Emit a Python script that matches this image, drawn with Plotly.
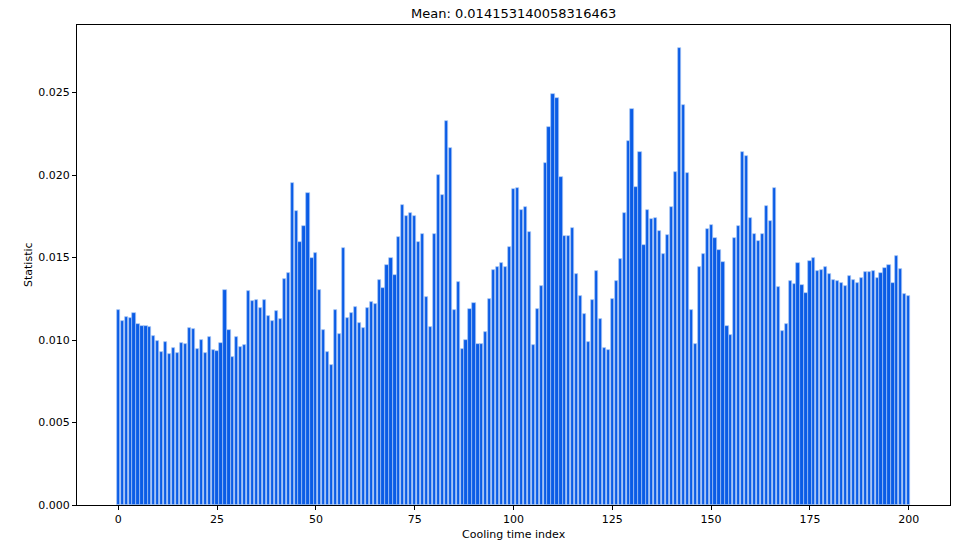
import plotly.graph_objects as go

title_text = "Mean: 0.014153140058316463"
x_label = "Cooling time index"
y_label = "Statistic"

values = [
    0.01180, 0.01115, 0.01142, 0.01133, 0.01162, 0.01097, 0.01085, 0.01085, 0.01081, 0.01024,
    0.00994, 0.00926, 0.00986, 0.00914, 0.00952, 0.00922, 0.00984, 0.00978, 0.01075, 0.01069,
    0.00948, 0.01000, 0.00922, 0.01021, 0.00938, 0.00934, 0.00982, 0.01301, 0.01061, 0.00900,
    0.01021, 0.00958, 0.00970, 0.01295, 0.01234, 0.01242, 0.01196, 0.01244, 0.01143, 0.01113,
    0.01174, 0.01127, 0.01369, 0.01408, 0.01952, 0.01783, 0.01595, 0.01690, 0.01890, 0.01496,
    0.01527, 0.01305, 0.01061, 0.00930, 0.00851, 0.01180, 0.01037, 0.01557, 0.01131, 0.01162,
    0.01198, 0.01105, 0.01071, 0.01196, 0.01228, 0.01216, 0.01363, 0.01318, 0.01452, 0.01498,
    0.01392, 0.01623, 0.01819, 0.01755, 0.01773, 0.01750, 0.01595, 0.01640, 0.01258, 0.01077,
    0.01644, 0.01998, 0.01878, 0.02331, 0.02166, 0.01180, 0.01351, 0.00948, 0.00998, 0.01188,
    0.01224, 0.00974, 0.00978, 0.01049, 0.01248, 0.01424, 0.01444, 0.01466, 0.01442, 0.01563,
    0.01914, 0.01923, 0.01789, 0.01809, 0.01656, 0.00970, 0.01188, 0.01329, 0.02073, 0.02293,
    0.02493, 0.02468, 0.01990, 0.01632, 0.01632, 0.01678, 0.01398, 0.01266, 0.01157, 0.00990,
    0.01240, 0.01420, 0.01125, 0.00950, 0.00940, 0.01250, 0.01361, 0.01494, 0.01769, 0.02206,
    0.02400, 0.01926, 0.02142, 0.01579, 0.01787, 0.01734, 0.01738, 0.01662, 0.01519, 0.01638,
    0.01805, 0.02017, 0.02773, 0.02426, 0.02015, 0.01184, 0.00978, 0.01444, 0.01523, 0.01672,
    0.01696, 0.01621, 0.01547, 0.01472, 0.01085, 0.01029, 0.01621, 0.01690, 0.02140, 0.02118,
    0.01740, 0.01644, 0.01599, 0.01641, 0.01815, 0.01720, 0.01920, 0.01319, 0.01053, 0.01095,
    0.01361, 0.01337, 0.01470, 0.01333, 0.01287, 0.01480, 0.01500, 0.01416, 0.01422, 0.01440,
    0.01398, 0.01365, 0.01361, 0.01345, 0.01327, 0.01390, 0.01363, 0.01343, 0.01375, 0.01414,
    0.01410, 0.01416, 0.01379, 0.01404, 0.01438, 0.01458, 0.01345, 0.01511, 0.01430, 0.01277,
    0.01268,
]
indices = list(range(len(values)))

x_ticks = [0, 25, 50, 75, 100, 125, 150, 175, 200]
y_ticks = [0.000, 0.005, 0.010, 0.015, 0.020, 0.025]

FONT = "DejaVu Sans"
W, H = 954, 543
L, R, T, B = 77, 4, 25, 38
plot_w = W - L - R
plot_h = H - T - B

fig = go.Figure()
fig.add_trace(go.Bar(
    x=indices, y=values, width=0.8,
    marker=dict(color="#0a5ce6", line=dict(color="#a8c6f4", width=0.7)),
))

axis_common = dict(
    showgrid=False, zeroline=False, showline=True, linecolor="black", linewidth=1,
    mirror=True, ticks="outside", ticklen=4, tickwidth=1, tickcolor="black",
    tickfont=dict(family=FONT, size=11, color="black"), automargin=False,
)

fig.update_layout(
    width=W, height=H,
    margin=dict(l=L, r=R, t=T, b=B),
    paper_bgcolor="white", plot_bgcolor="white",
    showlegend=False,
    bargap=0,
    xaxis=dict(range=[-10.44, 210.44], tickvals=x_ticks, ticktext=[str(t) for t in x_ticks],
               **axis_common),
    yaxis=dict(range=[0, 0.0291], tickvals=y_ticks, ticktext=[f"{t:.3f}" for t in y_ticks],
               **axis_common),
    annotations=[
        dict(text=title_text, xref="paper", yref="paper", x=0.5, y=(plot_h + T - 13) / plot_h,
             xanchor="center", yanchor="middle", showarrow=False,
             font=dict(family=FONT, size=13, color="black")),
        dict(text=x_label, xref="paper", yref="paper", x=0.5, y=-(534 - (T + plot_h)) / plot_h,
             xanchor="center", yanchor="middle", showarrow=False,
             font=dict(family=FONT, size=11, color="black")),
        dict(text=y_label, xref="paper", yref="paper", x=-(L - 28) / plot_w, y=0.5,
             xanchor="center", yanchor="middle", showarrow=False, textangle=-90,
             font=dict(family=FONT, size=11, color="black")),
    ],
)

fig.write_html("out.html", config={"displayModeBar": False},
               post_script="document.body.style.margin='0';document.body.style.padding='0';")
